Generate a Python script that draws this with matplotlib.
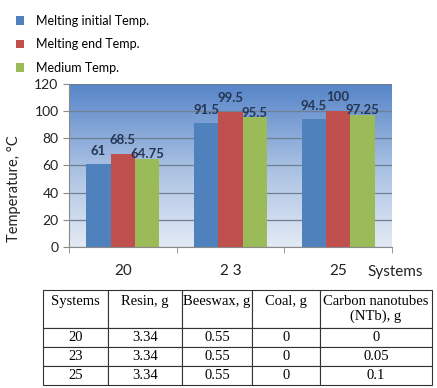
import matplotlib

matplotlib.use("Agg")
import matplotlib.pyplot as plt
import matplotlib.transforms as mtransforms
import numpy as np
from matplotlib.colors import LinearSegmentedColormap
from matplotlib.patches import Patch

# chart data
systems = ["20", "2 3", "25"]
melting_initial = [61, 91.5, 94.5]
melting_end = [68.5, 99.5, 100]
medium_temp = [64.75, 95.5, 97.25]
series_names = ["Melting initial Temp.", "Melting end Temp.", "Medium Temp."]
y_ticks = [0, 20, 40, 60, 80, 100, 120]

# table data
table_header = ["Systems\n", "Resin, g\n", "Beeswax, g\n", "Coal, g\n", "Carbon nanotubes\n(NTb), g"]
table_systems = ["20", "23", "25"]
table_resin = ["3.34", "3.34", "3.34"]
table_beeswax = ["0.55", "0.55", "0.55"]
table_coal = ["0", "0", "0"]
table_cnt = ["0", "0.05", "0.1"]

COLORS = ["#4f81bd", "#c0504d", "#9bbb59"]
LABEL_OFFSETS = [5, 6, -1]  # points above bar top, per series
TICK_SHIFT = [0, 7, 7]  # points, nudges the category labels right like the original
SANS = ["Lato", "DejaVu Sans"]
SERIF = ["Liberation Serif", "DejaVu Serif"]

W, H = 437, 388
fig = plt.figure(figsize=(W / 100, H / 100), dpi=100)

ax = fig.add_axes([69 / W, 1 - 247 / H, 323 / W, 163 / H])
grad = LinearSegmentedColormap.from_list("bg", ["#e3eaf4", "#a7bfe2", "#5584c8"])
ax.imshow(np.linspace(0, 1, 256)[:, None], cmap=grad, origin="lower", aspect="auto",
          extent=[-0.5, 2.5, 0, 120], zorder=0)

x = np.arange(len(systems))
width = 0.225
for k, (vals, color) in enumerate(zip([melting_initial, melting_end, medium_temp], COLORS)):
    pos = x + (k - 1) * width
    ax.bar(pos, vals, width=width, color=color, zorder=2)
    for px, v in zip(pos, vals):
        ax.annotate(f"{v:g}", (px, v), textcoords="offset points", xytext=(0, LABEL_OFFSETS[k]),
                    ha="center", va="bottom", fontsize=9.5, fontweight="bold", color="#243654",
                    family=SANS, zorder=3)

ax.set_xlim(-0.5, 2.5)
ax.set_ylim(0, 120)
ax.set_yticks(y_ticks)
ax.yaxis.grid(True, color="#6f7f92", linewidth=0.9)
ax.set_axisbelow(True)
for side in ("top", "right"):
    ax.spines[side].set_visible(False)
for side in ("left", "bottom"):
    ax.spines[side].set_color("#8a8a8a")
ax.tick_params(axis="y", direction="out", length=4, color="#8a8a8a", labelsize=10, labelcolor="#222222")
for t in ax.get_yticklabels():
    t.set_family(SANS)
ax.set_xticks(x)
ax.set_xticklabels(systems, fontsize=11, family=SANS, color="#222222")
for lbl, dx in zip(ax.get_xticklabels(), TICK_SHIFT):
    lbl.set_transform(lbl.get_transform() + mtransforms.ScaledTranslation(dx / 72, 0, fig.dpi_scale_trans))
ax.set_xticks([-0.5, 0.5, 1.5, 2.5], minor=True)
ax.tick_params(axis="x", which="major", length=0, pad=12)
ax.tick_params(axis="x", which="minor", direction="out", length=4, color="#8a8a8a")
fig.text(367 / W, 1 - 272 / H, "Systems", ha="left", va="center",
         fontsize=11, family=SANS, color="#222222")
ax.set_ylabel("Temperature, \u00b0C", fontsize=10.5, family=SANS, color="#222222")
ax.yaxis.set_label_coords(-0.15, 0.36)

handles = [Patch(facecolor=c) for c in COLORS]
fig.legend(handles, series_names, loc="upper left", bbox_to_anchor=(0.01, 0.99), frameon=False,
           handlelength=0.7, handleheight=0.7, handletextpad=0.9, labelspacing=0.9,
           prop={"family": SANS, "size": 9})

# table under the chart
tax = fig.add_axes([43 / W, 1 - 385 / H, 389 / W, 95 / H])
tax.axis("off")
cells = [list(r) for r in zip(table_systems, table_resin, table_beeswax, table_coal, table_cnt)]
col_w = np.array([65, 74, 70, 68, 112], dtype=float)
tbl = tax.table(cellText=cells, colLabels=table_header, colWidths=list(col_w / col_w.sum()),
                cellLoc="center", bbox=[0, 0, 1, 1])
tbl.auto_set_font_size(False)
for (r, c), cell in tbl.get_celld().items():
    cell.set_linewidth(0.8)
    cell.set_edgecolor("#333333")
    cell.get_text().set_fontsize(10.5)
    cell.get_text().set_family(SERIF)
    cell.set_height(2.0 if r == 0 else 1.0)

fig.savefig("out.png", dpi=100)
